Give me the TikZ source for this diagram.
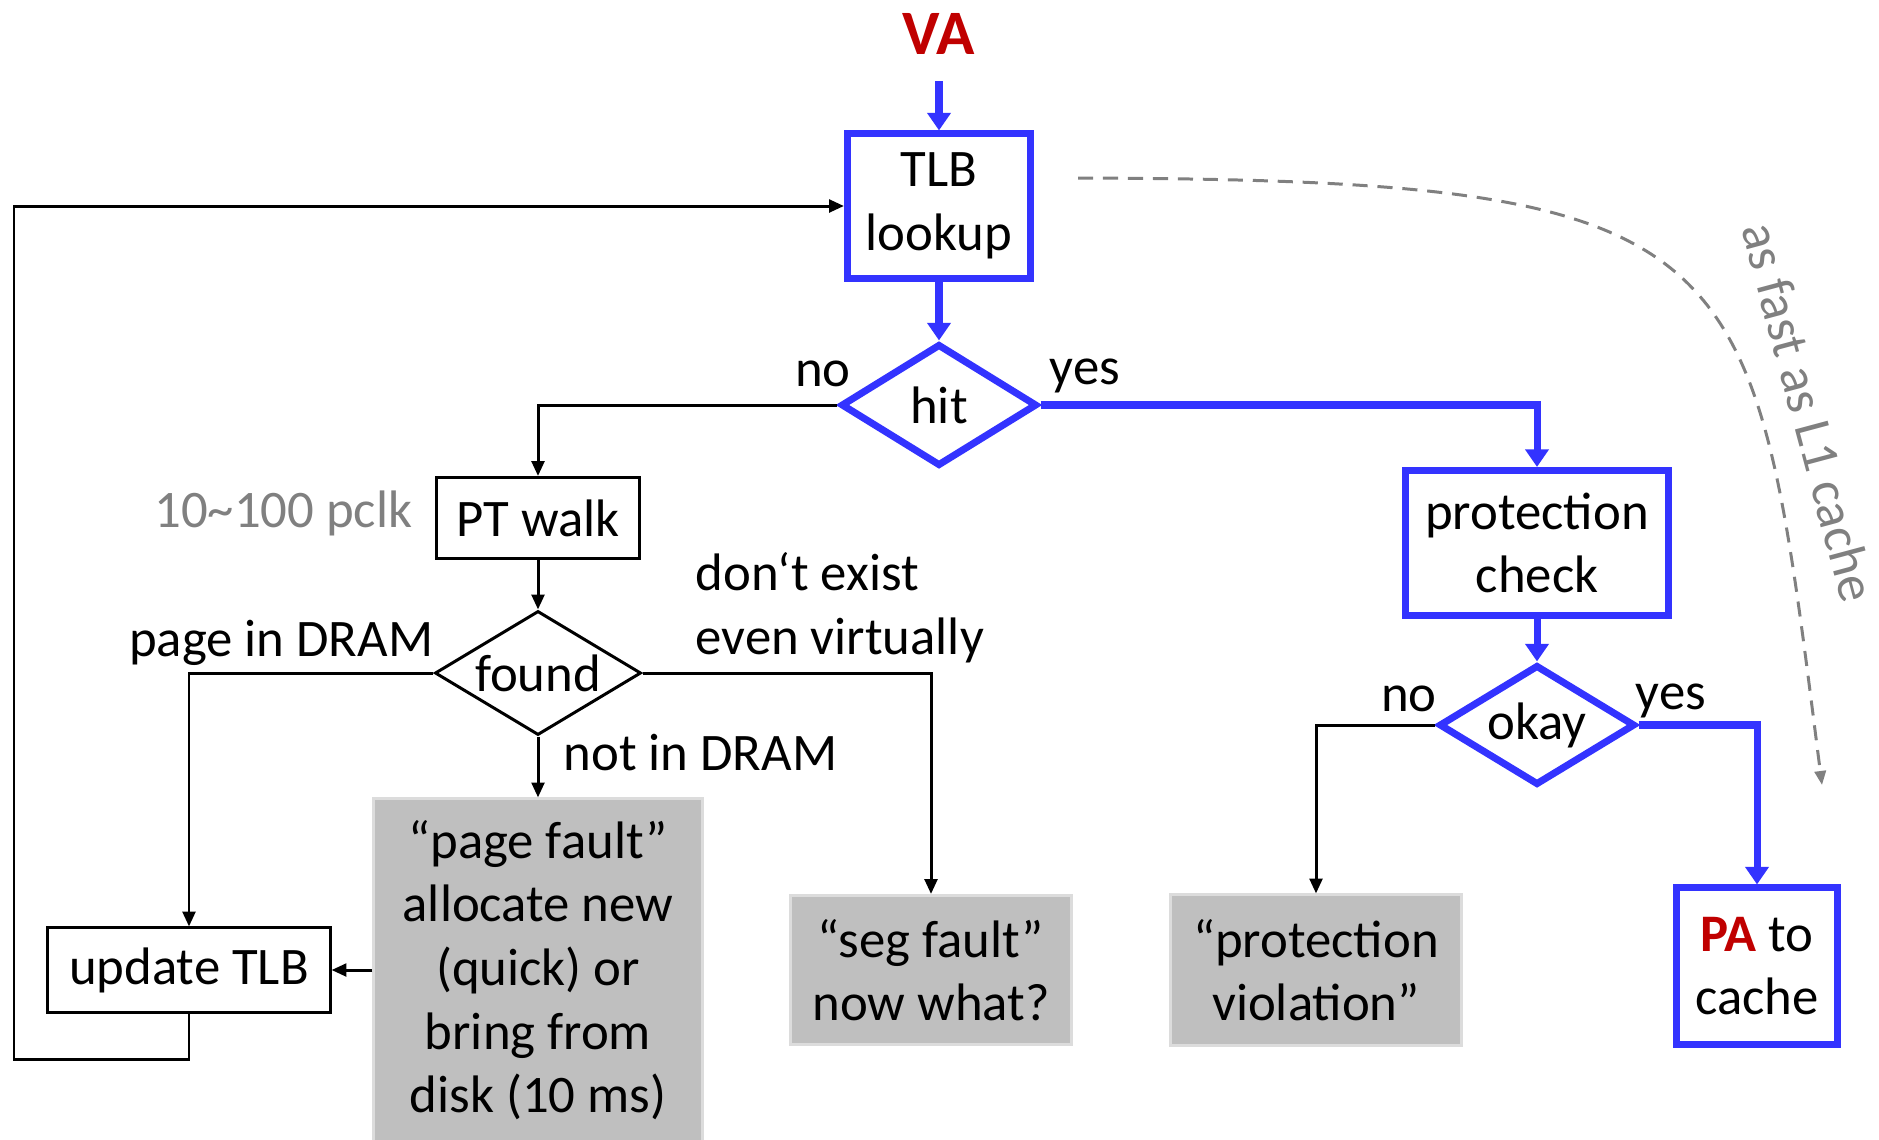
\documentclass[tikz,border=0pt]{standalone}
\usepackage{fontspec}
\setmainfont{Carlito}
\usetikzlibrary{calc}
\usetikzlibrary{arrows.meta,shapes.geometric}

\definecolor{flowblue}{HTML}{3333FF}
\definecolor{vared}{HTML}{C00000}
\definecolor{faultgray}{HTML}{BFBFBF}
\definecolor{faultedge}{HTML}{DCDCDC}
\definecolor{notegray}{HTML}{808080}

\tikzset{
  txt/.style={font=\fontsize{15}{18.1}\selectfont},
  lbl/.style={txt,inner sep=0pt},
  bluebox/.style={txt,draw=flowblue,line width=2pt,fill=white,align=center,inner sep=0pt},
  plainbox/.style={txt,draw=black,line width=0.85pt,fill=white,align=center,inner sep=0pt},
  faultbox/.style={txt,draw=faultedge,line width=0.85pt,fill=faultgray,align=center,inner sep=0pt},
  bluetest/.style={txt,diamond,aspect=1.6,draw=flowblue,line width=2pt,fill=white,inner sep=0pt},
  plaintest/.style={txt,diamond,aspect=1.6,draw=black,line width=0.85pt,fill=white,inner sep=0pt},
  blueflow/.style={draw=flowblue,line width=2pt,-{Triangle[length=5pt,width=6.5pt]}},
  plainflow/.style={draw=black,line width=0.85pt,-{Triangle[length=4.2pt,width=3.6pt]}},
  fastpath/.style={draw=notegray,line width=0.85pt,dash pattern=on 4.3pt off 2.8pt,
    -{Triangle[length=4pt,width=3.2pt]}}
}

\begin{document}
\begin{tikzpicture}[x=0.01cm,y=-0.01cm]
\useasboundingbox (0,0) rectangle (1879,1139);

% address in
\node[txt,font=\fontsize{18}{22}\selectfont\bfseries,text=vared] (va) at (939,34) {VA};

% translation path
\node[bluebox,minimum width=1.83cm,minimum height=1.44cm] (tlb) at (939,206) {TLB\\lookup};
\node[bluetest,minimum width=1.96cm,minimum height=1.22cm] (hit) at (939,405) {hit};
\node[plainbox,minimum width=2.03cm,minimum height=0.81cm] (ptw) at (538,518) {PT walk};
\node[plaintest,minimum width=2.06cm,minimum height=1.24cm] (found) at (538,673) {found};
\node[plainbox,minimum width=2.82cm,minimum height=0.84cm] (upd) at (189,970) {update TLB};

% faults
\node[faultbox,minimum width=3.28cm,minimum height=3.42cm] (pf) at (538,970)
  {“page fault”\\allocate new\\(quick) or\\bring from\\disk (10 ms)};
\node[faultbox,minimum width=2.80cm,minimum height=1.49cm] (seg) at (931,970) {“seg fault”\\now what?};
\node[faultbox,minimum width=2.90cm,minimum height=1.50cm] (viol) at (1316,970) {“protection\\violation”};

% protection path
\node[bluebox,minimum width=2.62cm,minimum height=1.45cm] (prot) at (1537,543) {protection\\check};
\node[bluetest,minimum width=1.96cm,minimum height=1.20cm] (okay) at (1537,725) {okay};
\node[bluebox,minimum width=1.61cm,minimum height=1.56cm] (pa) at (1757,966)
  {{\bfseries\color{vared}PA} to\\cache};

% connectors
\draw[blueflow,shorten <=4pt] (va) -- (tlb);
\draw[blueflow] (tlb) -- (hit);
\draw[plainflow] (hit.west) -| (ptw.north);
\draw[blueflow] (hit.east) -| (prot.north);
\draw[plainflow] (ptw) -- (found);
\draw[plainflow] (found.west) -| (upd.north);
\draw[plainflow] (found) -- (pf);
\draw[plainflow] (found.east) -| (seg.north);
\draw[plainflow] (pf) -- (upd);
\coordinate (loop) at (14,1059);
\draw[plainflow] (upd.south) |- (loop) |- (tlb.west);
\draw[blueflow] (prot) -- (okay);
\draw[plainflow] (okay.west) -| (viol.north);
\draw[blueflow] (okay.east) -| (pa.north);

% fast path
\coordinate (faststart) at (1078,178);
\coordinate (fastend) at (1822,785);
\draw[fastpath] (faststart) .. controls (1760,180) and (1752,238) .. (fastend);
\node[txt,text=notegray,rotate=-75] (fastlbl) at (1809,412) {as fast as L1 cache};

% labels
\node[lbl] (hitno) at (823,374) {no};
\node[lbl] (hityes) at (1085,376) {yes};
\node[lbl,text=notegray,anchor=east] (walkcost) at (413,513) {10\textasciitilde 100 pclk};
\node[lbl,anchor=east] (inram) at (434,643) {page in DRAM};
\node[lbl,anchor=west,align=left] (noexist) at (695,608) {don‘t exist\\even virtually};
\node[lbl,anchor=west] (notram) at (563,753) {not in DRAM};
\node[lbl] (okno) at (1409,699) {no};
\node[lbl] (okyes) at (1671,701) {yes};
\end{tikzpicture}
\end{document}
